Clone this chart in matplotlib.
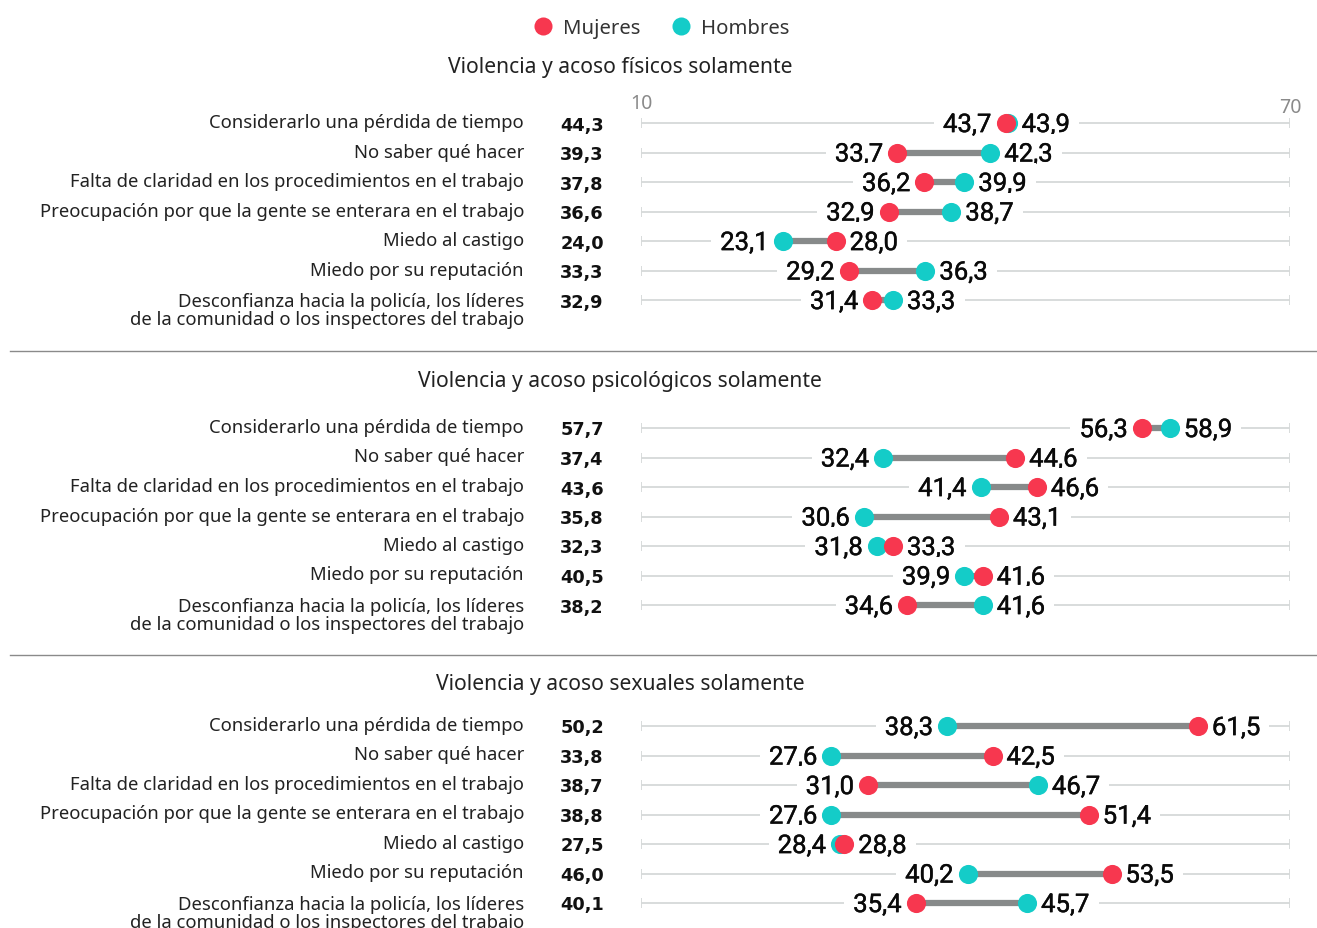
import matplotlib
matplotlib.use("Agg")
from matplotlib import pyplot as plt
from matplotlib import transforms as mtransforms
from matplotlib import patheffects as pe
from matplotlib.lines import Line2D

W, H = 1317, 929

categorias = [
    "Considerarlo una pérdida de tiempo",
    "No saber qué hacer",
    "Falta de claridad en los procedimientos en el trabajo",
    "Preocupación por que la gente se enterara en el trabajo",
    "Miedo al castigo",
    "Miedo por su reputación",
    "Desconfianza hacia la policía, los líderes\nde la comunidad o los inspectores del trabajo",
]

titulos = [
    "Violencia y acoso físicos solamente",
    "Violencia y acoso psicológicos solamente",
    "Violencia y acoso sexuales solamente",
]

total_fisicos = [44.3, 39.3, 37.8, 36.6, 24.0, 33.3, 32.9]
mujeres_fisicos = [43.7, 33.7, 36.2, 32.9, 28.0, 29.2, 31.4]
hombres_fisicos = [43.9, 42.3, 39.9, 38.7, 23.1, 36.3, 33.3]

total_psico = [57.7, 37.4, 43.6, 35.8, 32.3, 40.5, 38.2]
mujeres_psico = [56.3, 44.6, 46.6, 43.1, 33.3, 41.6, 34.6]
hombres_psico = [58.9, 32.4, 41.4, 30.6, 31.8, 39.9, 41.6]

total_sexual = [50.2, 33.8, 38.7, 38.8, 27.5, 46.0, 40.1]
mujeres_sexual = [61.5, 42.5, 31.0, 51.4, 28.8, 53.5, 35.4]
hombres_sexual = [38.3, 27.6, 46.7, 27.6, 28.4, 40.2, 45.7]

paneles = [
    (total_fisicos, mujeres_fisicos, hombres_fisicos),
    (total_psico, mujeres_psico, hombres_psico),
    (total_sexual, mujeres_sexual, hombres_sexual),
]

ROJO = "#f7374f"
TURQ = "#14ccc8"
GRIS = "#878a8a"
REJILLA = "#d6d9d9"

# layout (pixel rows, top-down)
fila0 = [124, 429, 727]
paso = 29.5
titulo_y = [67, 382, 685]
separador_y = [352, 656]


def fmt(v):
    return f"{v:.1f}".replace(".", ",")


fig = plt.figure(figsize=(W / 100, H / 100), dpi=100)
ax = fig.add_axes([641 / W, 0, 649 / W, 1])
ax.set_xlim(10, 70)
ax.set_ylim(H, 0)
ax.axis("off")

tr = mtransforms.blended_transform_factory(fig.transFigure, ax.transData)
lab_font = "Noto Sans"
grueso = [pe.withStroke(linewidth=0.3, foreground="#0a0a0a")]

for p, (tot, muj, hom) in enumerate(paneles):
    fig.text(620 / W, 1 - titulo_y[p] / H, titulos[p], ha="center", va="center",
             fontsize=15.2, family=lab_font, color="#222222")
    for i in range(len(categorias)):
        y = fila0[p] + i * paso
        ax.hlines(y, 10, 70, color=REJILLA, lw=1.3, zorder=1)
        ax.vlines([10, 70], y - 5, y + 5, color=REJILLA, lw=1.3, zorder=1)
        lo, hi = min(muj[i], hom[i]), max(muj[i], hom[i])
        ax.hlines(y, lo, hi, color=GRIS, lw=4.5, zorder=3)
        ax.scatter([hom[i]], [y], s=190, color=TURQ, zorder=4, linewidths=0)
        ax.scatter([muj[i]], [y], s=190, color=ROJO, zorder=5, linewidths=0)
        box = dict(boxstyle="square,pad=0.35", fc="white", ec="none")
        ax.annotate(fmt(lo), (lo, y), xytext=(-10, -1.5), textcoords="offset points",
                    ha="right", va="center", fontsize=18.5, family="Roboto",
                    color="#0a0a0a", bbox=box, zorder=2, path_effects=grueso)
        ax.annotate(fmt(hi), (hi, y), xytext=(10, -1.5), textcoords="offset points",
                    ha="left", va="center", fontsize=18.5, family="Roboto",
                    color="#0a0a0a", bbox=box, zorder=2, path_effects=grueso)
        if "\n" in categorias[i]:
            ax.text(524 / W, y - 8, categorias[i], transform=tr, ha="right", va="top",
                    fontsize=13.3, family=lab_font, color="#222222", linespacing=0.98,
                    multialignment="right")
        else:
            ax.text(524 / W, y - 1, categorias[i], transform=tr, ha="right", va="center",
                    fontsize=13.3, family=lab_font, color="#222222")
        ax.text(582 / W, y + 1.5, fmt(tot[i]), transform=tr, ha="center", va="center",
                fontsize=12.8, family="DejaVu Sans", weight="bold", color="#111111")

ax.text(10, 104, "10", ha="center", va="center", fontsize=14, family=lab_font,
        color="#8a8a8a")
ax.text(70, 108, "70", ha="center", va="center", fontsize=14, family=lab_font,
        color="#8a8a8a")

for y in separador_y:
    fig.add_artist(Line2D([10 / W, 1], [1 - y / H, 1 - y / H], color="#8a8a8a", lw=1))

handles = [
    Line2D([], [], marker="o", ls="none", ms=13, mfc=ROJO, mec="none", label="Mujeres"),
    Line2D([], [], marker="o", ls="none", ms=13, mfc=TURQ, mec="none", label="Hombres"),
]
leg = fig.legend(handles=handles, loc="center", bbox_to_anchor=(656 / W, 1 - 29 / H),
                 ncol=2, frameon=False, handletextpad=0.0, columnspacing=1.0,
                 prop={"family": lab_font, "size": 14.6})
for t in leg.get_texts():
    t.set_color("#333333")

fig.savefig("out.png", dpi=100)
